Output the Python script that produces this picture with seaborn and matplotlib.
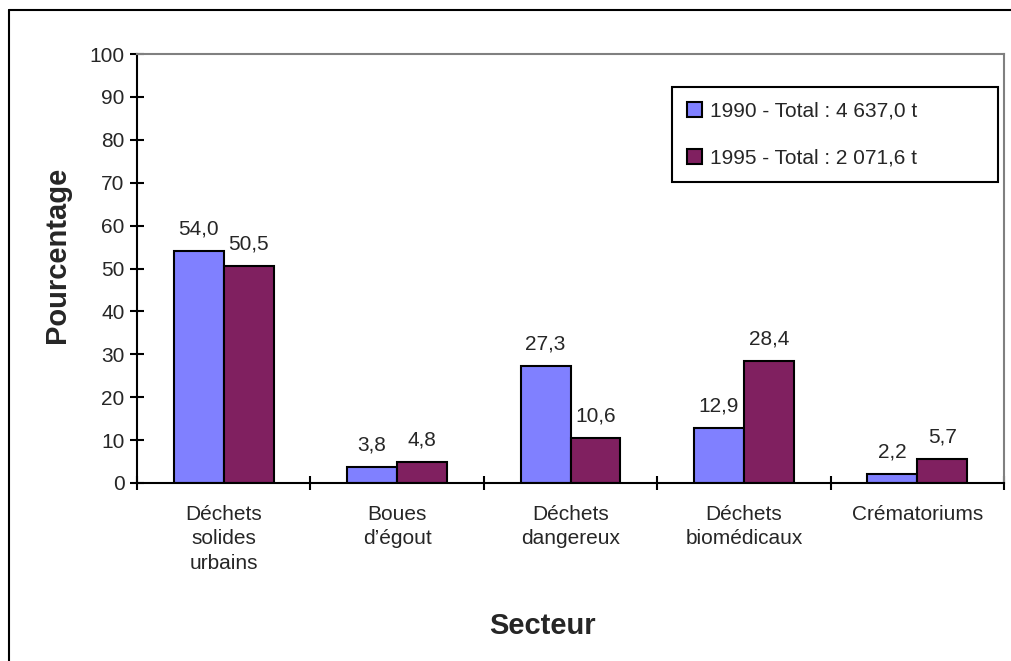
import matplotlib
matplotlib.use('Agg')
import matplotlib.pyplot as plt
import seaborn as sns
import pandas as pd
from matplotlib.lines import Line2D
from matplotlib.patches import Patch
from matplotlib.ticker import FixedLocator

categories = ["Déchets\nsolides\nurbains", "Boues\nd’égout", "Déchets\ndangereux",
              "Déchets\nbiomédicaux", "Crématoriums"]
series_names = ["1990 - Total : 4 637,0 t", "1995 - Total : 2 071,6 t"]
values_1990 = [54.0, 3.8, 27.3, 12.9, 2.2]
values_1995 = [50.5, 4.8, 10.6, 28.4, 5.7]
colors = ["#8080FF", "#802060"]
y_ticks = list(range(0, 101, 10))
x_label = "Secteur"
y_label = "Pourcentage"

sns.set_style("white")
plt.rcParams['font.family'] = ['Liberation Sans', 'DejaVu Sans']

df = pd.DataFrame({
    "Secteur": categories * 2,
    "Pourcentage": values_1990 + values_1995,
    "Série": [series_names[0]] * len(categories) + [series_names[1]] * len(categories),
})

fig = plt.figure(figsize=(10.11, 6.61), dpi=100)
ax = fig.add_axes([137 / 1011, 1 - 483 / 661, (1004 - 137) / 1011, (483 - 54) / 661])

sns.barplot(data=df, x="Secteur", y="Pourcentage", hue="Série", palette=colors,
            saturation=1, width=0.575, gap=0, edgecolor="black", linewidth=1.5,
            errorbar=None, legend=False, ax=ax)

for cont, vals in zip(ax.containers, [values_1990, values_1995]):
    ax.bar_label(cont, labels=[f"{v:.1f}".replace(".", ",") for v in vals],
                 padding=9, fontsize=15)

ax.set_xlim(-0.5, len(categories) - 0.5)
ax.set_ylim(0, 100)
ax.set_yticks(y_ticks)
ax.set_yticklabels([str(t) for t in y_ticks], fontsize=15)
ax.set_xticks(range(len(categories)))
ax.set_xticklabels(categories, fontsize=15, linespacing=1.35, va="top")
ax.xaxis.set_minor_locator(FixedLocator([i - 0.5 for i in range(len(categories) + 1)]))
ax.tick_params(axis="x", which="major", length=0, pad=16)
ax.tick_params(axis="x", which="minor", direction="inout", length=10, width=1.5, color="black", bottom=True)
ax.tick_params(axis="y", which="major", direction="inout", length=10, width=1.5, color="black", pad=4, left=True)
ax.set_xlabel("")
ax.set_ylabel("")

for side in ["left", "bottom"]:
    ax.spines[side].set_color("black")
    ax.spines[side].set_linewidth(1.5)
for side in ["top", "right"]:
    ax.spines[side].set_color("#808080")
    ax.spines[side].set_linewidth(1.5)

handles = [Patch(facecolor=c, edgecolor="black", linewidth=1.5) for c in colors]
leg = ax.legend(handles, series_names, loc="upper left",
                bbox_to_anchor=((672 - 137) / 867, 0.0, 326 / 867, (483 - 87) / 429),
                mode="expand", borderaxespad=0, fontsize=15, frameon=True, fancybox=False,
                handlelength=0.75, handleheight=0.75, handletextpad=0.35,
                labelspacing=1.35, borderpad=0.7)
leg.get_frame().set_edgecolor("black")
leg.get_frame().set_linewidth(1.5)
leg.get_frame().set_alpha(1)

fig.text(57 / 1011, 1 - 255 / 661, y_label, rotation=90, fontsize=21, fontweight="bold",
         ha="center", va="center")
fig.text(542 / 1011, 1 - 626 / 661, x_label, fontsize=21, fontweight="bold",
         ha="center", va="center")

fig.add_artist(Line2D([9 / 1011, 9 / 1011], [0, 1 - 10 / 661], transform=fig.transFigure,
                      color="black", linewidth=1.5))
fig.add_artist(Line2D([9 / 1011, 1], [1 - 10 / 661, 1 - 10 / 661], transform=fig.transFigure,
                      color="black", linewidth=1.5))

fig.savefig("out.png", dpi=100, facecolor="white")
